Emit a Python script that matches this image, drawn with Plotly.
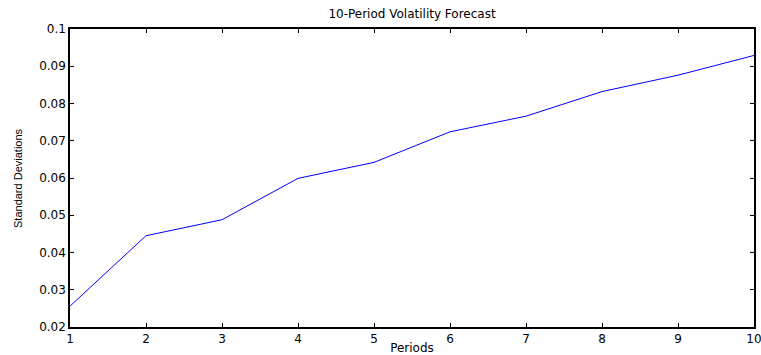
import plotly.graph_objects as go

periods = [1, 2, 3, 4, 5, 6, 7, 8, 9, 10]
std_devs = [0.0256, 0.0445, 0.0488, 0.0599, 0.0642, 0.0724, 0.0766, 0.0832, 0.0876, 0.0929]
x_ticks = [1, 2, 3, 4, 5, 6, 7, 8, 9, 10]
y_ticks = [0.02, 0.03, 0.04, 0.05, 0.06, 0.07, 0.08, 0.09, 0.1]
y_tick_text = ["0.02", "0.03", "0.04", "0.05", "0.06", "0.07", "0.08", "0.09", "0.1"]

fig = go.Figure()
fig.add_trace(go.Scatter(x=periods, y=std_devs, mode="lines",
                         line=dict(color="#0000ff", width=1), showlegend=False))

font_wide = "DejaVu Sans, Verdana, sans-serif"
axis_common = dict(showline=True, linecolor="black", linewidth=1.5, mirror="ticks",
                   ticks="inside", ticklen=4, tickcolor="black", tickwidth=1,
                   showgrid=False, zeroline=False, automargin=False,
                   ticklabeloverflow="allow",
                   tickfont=dict(family=font_wide, size=12, color="black"))

fig.update_layout(
    template="none",
    width=761, height=355,
    margin=dict(l=70, r=7, t=29, b=28),
    paper_bgcolor="white", plot_bgcolor="white",
    title=dict(text="10-Period Volatility Forecast", x=0.5, xref="paper", xanchor="center",
               y=1, yref="paper", yanchor="bottom", pad=dict(b=11),
               font=dict(family=font_wide, size=12, color="black")),
    xaxis=dict(range=[1, 10], tickvals=x_ticks, **axis_common),
    yaxis=dict(range=[0.02, 0.1], tickvals=y_ticks, ticktext=y_tick_text, **axis_common),
)
fig.update_xaxes(title=dict(text="Periods", standoff=1,
                            font=dict(family=font_wide, size=12, color="black")))
fig.add_annotation(text="Standard Deviations", xref="paper", yref="paper",
                   x=0, y=0.5, xanchor="center", yanchor="middle",
                   xshift=-52, textangle=-90, showarrow=False,
                   font=dict(family="Liberation Sans Narrow, Arial Narrow, sans-serif",
                             size=11, color="black"))

fig.write_html("out.html")
